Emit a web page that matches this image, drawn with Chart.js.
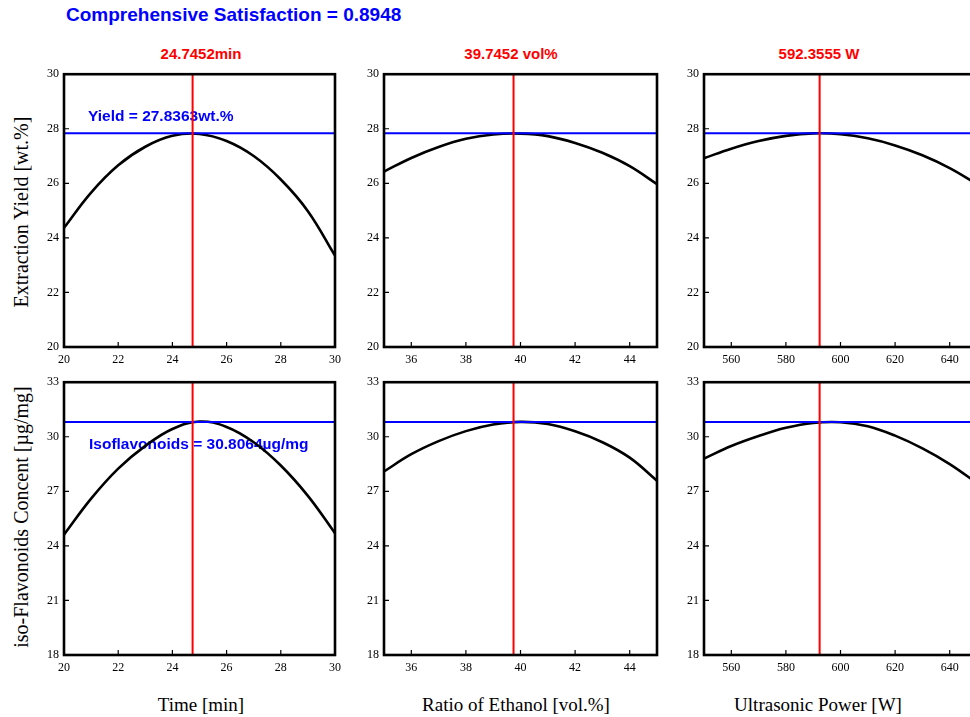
<!DOCTYPE html>
<html><head><meta charset="utf-8">
<script src="https://cdn.jsdelivr.net/npm/chart.js@4/dist/chart.umd.min.js"></script>
<style>
html,body{margin:0;padding:0;background:#fff;width:970px;height:717px;overflow:hidden;position:relative;}
canvas{position:absolute;}
.t{position:absolute;white-space:nowrap;line-height:1;}
.main{left:66px;top:4px;font:bold 19px "Liberation Sans",Arial,sans-serif;color:#0000ff;}
.pt{font:bold 15px "Liberation Sans",Arial,sans-serif;color:#ff0000;transform:translateX(-50%);top:45px;}
.xt{font:19px "Liberation Serif","Times New Roman",serif;color:#000;transform:translateX(-50%);top:694px;}
.yt{font:20px "Liberation Serif","Times New Roman",serif;color:#000;transform:translate(-50%,-50%) rotate(-90deg);}
</style></head>
<body>
<div class="t main" id="mainTitle"></div>
<div class="t pt" id="pt0" style="left:201px"></div>
<div class="t pt" id="pt1" style="left:511px"></div>
<div class="t pt" id="pt2" style="left:819px"></div>
<div class="t yt" id="yt0" style="left:21px;top:212px"></div>
<div class="t yt" id="yt1" style="left:21px;top:517px"></div>
<div class="t xt" id="xt0" style="left:201px"></div>
<div class="t xt" id="xt1" style="left:516px"></div>
<div class="t xt" id="xt2" style="left:818px"></div>
<canvas id="c0"></canvas><canvas id="c1"></canvas><canvas id="c2"></canvas>
<canvas id="c3"></canvas><canvas id="c4"></canvas><canvas id="c5"></canvas>
<script>
// ---- data ----
const timeX    = [20,21,22,23,24,25,26,27,28,29,30];
const ethanolX = [35,36,37,38,39,40,41,42,43,44,45];
const powerX   = [550,560,570,580,590,600,610,620,630,640,650];

const yieldVsTime    = [24.37,25.66,26.66,27.34,27.74,27.81,27.55,27.00,26.14,24.98,23.35];
const yieldVsEthanol = [26.43,26.93,27.33,27.63,27.79,27.82,27.73,27.48,27.12,26.63,25.97];
const yieldVsPower   = [26.92,27.27,27.55,27.74,27.83,27.80,27.65,27.39,27.03,26.56,25.97];
const isoVsTime      = [24.62,26.60,28.25,29.50,30.43,30.84,30.54,29.70,28.42,26.75,24.70];
const isoVsEthanol   = [28.09,29.04,29.76,30.31,30.67,30.82,30.70,30.30,29.70,28.85,27.58];
const isoVsPower     = [28.80,29.49,30.04,30.49,30.76,30.80,30.58,30.06,29.36,28.50,27.45];

const optTime = 24.7452, optEthanol = 39.7452, optPower = 592.3555;
const optYield = 27.8363, optIso = 30.8064, satisfaction = 0.8948;

const timeTicks    = [20,22,24,26,28,30];
const ethanolTicks = [36,38,40,42,44];
const powerTicks   = [560,580,600,620,640];
const yieldTicks   = [20,22,24,26,28,30];
const isoTicks     = [18,21,24,27,30,33];

const xRanges = [[20,30],[35,45],[550,650]];
const yieldRange = [20,30], isoRange = [18,33];

const mainTitle = "Comprehensive Satisfaction = " + satisfaction.toFixed(4);
const panelTitles = [optTime.toFixed(4)+"min", optEthanol.toFixed(4)+" vol%", optPower.toFixed(4)+" W"];
const xTitles = ["Time [min]","Ratio of Ethanol [vol.%]","Ultrasonic Power [W]"];
const yTitles = ["Extraction Yield [wt.%]","iso-Flavonoids Concent [µg/mg]"];
const yieldLabel = "Yield = " + optYield.toFixed(4) + "wt.%";
const isoLabel = "Isoflavonoids = " + optIso.toFixed(4) + "µg/mg";

document.getElementById('mainTitle').textContent = mainTitle;
panelTitles.forEach((t,i)=>document.getElementById('pt'+i).textContent=t);
xTitles.forEach((t,i)=>document.getElementById('xt'+i).textContent=t);
yTitles.forEach((t,i)=>document.getElementById('yt'+i).textContent=t);

// ---- layout ----
const PL = 50, PT = 10, PR = 10, PB = 30, PW = 273, PH = 275;
const plotLefts = [64,384,704];
const plotTops = [72,380];

const framePlugin = {
  id:'frame',
  beforeDatasetsDraw(chart, args, opts){
    const ctx = chart.ctx, a = chart.chartArea;
    if (opts.label){
      ctx.save();
      ctx.fillStyle = '#0000ff';
      ctx.font = 'bold 15.5px "Liberation Sans", Arial, sans-serif';
      ctx.textBaseline = 'middle';
      ctx.textAlign = 'left';
      ctx.fillText(opts.label, a.left + opts.dx, a.top + opts.dy);
      ctx.restore();
    }
  },
  afterDraw(chart){
    const ctx = chart.ctx, a = chart.chartArea;
    const xs = chart.scales.x, ys = chart.scales.y;
    ctx.save();
    ctx.strokeStyle = '#000';
    ctx.lineWidth = 1.2;
    ctx.beginPath();
    xs.ticks.forEach(t=>{const p=xs.getPixelForValue(t.value); ctx.moveTo(p,a.bottom); ctx.lineTo(p,a.bottom-5);});
    ys.ticks.forEach(t=>{const p=ys.getPixelForValue(t.value); ctx.moveTo(a.left,p); ctx.lineTo(a.left+5,p);});
    ctx.stroke();
    ctx.lineWidth = 2.6;
    ctx.strokeRect(a.left, a.top, a.right-a.left, a.bottom-a.top);
    ctx.restore();
  }
};

function makeChart(idx, col, row, xs, ys, xr, xt, yr, yt, optX, optY, label, dx, dy){
  const cv = document.getElementById('c'+idx);
  const w = PL + PW + PR, h = PT + PH + PB;
  cv.width = w; cv.height = h;
  cv.style.width = w+'px'; cv.style.height = h+'px';
  cv.style.left = (plotLefts[col]-PL)+'px';
  cv.style.top = (plotTops[row]-PT)+'px';
  const pts = xs.map((x,i)=>({x:x, y:ys[i]}));
  new Chart(cv, {
    type:'line',
    data:{datasets:[
      {data:pts, borderColor:'#000', borderWidth:2.6, pointRadius:0, tension:0.4, fill:false, order:3},
      {data:[{x:xr[0],y:optY},{x:xr[1],y:optY}], borderColor:'#0000ff', borderWidth:2, pointRadius:0, order:2},
      {data:[{x:optX,y:yr[0]},{x:optX,y:yr[1]}], borderColor:'#ff0000', borderWidth:2, pointRadius:0, order:1}
    ]},
    options:{
      responsive:false, maintainAspectRatio:false, animation:false, devicePixelRatio:1,
      layout:{padding:{top:PT, right:PR, left:0, bottom:0}},
      plugins:{legend:{display:false}, tooltip:{enabled:false}, title:{display:false},
        frame:{label:label, dx:dx, dy:dy}},
      scales:{
        x:{type:'linear', min:xr[0], max:xr[1],
           afterBuildTicks:s=>{s.ticks = xt.map(v=>({value:v}));},
           afterFit:s=>{s.height = PB;},
           grid:{display:false, drawTicks:false}, border:{display:false},
           ticks:{padding:6, color:'#000', font:{family:'"Liberation Serif", "Times New Roman", serif', size:12}, callback:v=>String(v), maxRotation:0, autoSkip:false}},
        y:{type:'linear', min:yr[0], max:yr[1],
           afterBuildTicks:s=>{s.ticks = yt.map(v=>({value:v}));},
           afterFit:s=>{s.width = PL;},
           grid:{display:false, drawTicks:false}, border:{display:false},
           ticks:{padding:5, color:'#000', font:{family:'"Liberation Serif", "Times New Roman", serif', size:12}, callback:v=>String(v), autoSkip:false}}
      }
    },
    plugins:[framePlugin]
  });
}

makeChart(0,0,0,timeX,yieldVsTime,xRanges[0],timeTicks,yieldRange,yieldTicks,optTime,optYield,yieldLabel,24,43);
makeChart(1,1,0,ethanolX,yieldVsEthanol,xRanges[1],ethanolTicks,yieldRange,yieldTicks,optEthanol,optYield,null,0,0);
makeChart(2,2,0,powerX,yieldVsPower,xRanges[2],powerTicks,yieldRange,yieldTicks,optPower,optYield,null,0,0);
makeChart(3,0,1,timeX,isoVsTime,xRanges[0],timeTicks,isoRange,isoTicks,optTime,optIso,isoLabel,25,63);
makeChart(4,1,1,ethanolX,isoVsEthanol,xRanges[1],ethanolTicks,isoRange,isoTicks,optEthanol,optIso,null,0,0);
makeChart(5,2,1,powerX,isoVsPower,xRanges[2],powerTicks,isoRange,isoTicks,optPower,optIso,null,0,0);
</script>
</body></html>
